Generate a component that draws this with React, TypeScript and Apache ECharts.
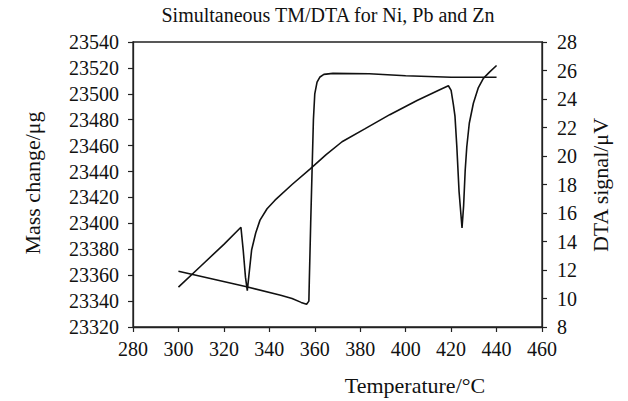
import React, { useEffect, useRef } from "react";
import * as echarts from "echarts";

const xTicks = [280, 300, 320, 340, 360, 380, 400, 420, 440, 460];
const massTemp = [300, 315, 330, 345, 350, 354, 356.4, 357.4, 357.6, 358.2, 358.8, 359.4, 360, 361, 362.3, 364, 368, 384, 400, 420, 440];
const massValue = [23363, 23357, 23351, 23344.5, 23342, 23339, 23337.5, 23340, 23356, 23400, 23440, 23480, 23500, 23509, 23513, 23515, 23515.8, 23515.5, 23514, 23512.8, 23512.8];
const dtaTemp = [300, 310, 320, 327.5, 328.5, 329.5, 330.3, 331, 332.2, 334, 335.9, 339, 342.5, 350, 358, 365, 372, 382, 393, 405, 415, 418.8, 420, 421, 421.7, 422.5, 423.5, 424.8, 425.5, 426.2, 426.9, 428, 429.8, 432, 434.2, 437, 440];
const dtaValue = [10.8, 12.3, 13.8, 15.0, 13.4, 11.5, 10.55, 11.6, 13.4, 14.6, 15.5, 16.3, 16.9, 18.0, 19.1, 20.1, 21.0, 21.9, 22.9, 23.9, 24.65, 24.93, 24.6, 23.6, 22.8, 20.7, 17.5, 14.95, 16.5, 19.0, 20.65, 22.3, 23.7, 24.8, 25.45, 25.9, 26.35];

const FONT = "'Liberation Serif', 'DejaVu Serif', serif";

export default function App() {
  const ref = useRef<HTMLDivElement>(null);
  useEffect(() => {
    const chart = echarts.init(ref.current!, null, { renderer: "svg" });
    const axisCommon = {
      axisLine: { show: true, lineStyle: { color: "#222", width: 1.3 } },
      axisTick: { show: true, inside: false, length: 5, lineStyle: { color: "#222", width: 1.2 } },
      splitLine: { show: false },
      axisLabel: { color: "#111", fontFamily: FONT, fontSize: 20, lineHeight: 16, formatter: (v: number) => String(v) },
    };
    chart.setOption({
      animation: false,
      backgroundColor: "#fff",
      grid: { left: 133, right: 86, top: 42, bottom: 74, show: true, borderColor: "#222", borderWidth: 1.3 },
      xAxis: {
        type: "value", min: xTicks[0], max: xTicks[xTicks.length - 1], interval: 20,
        ...axisCommon,
        axisLabel: { ...axisCommon.axisLabel, margin: 14 },
      },
      yAxis: [
        { type: "value", min: 23320, max: 23540, interval: 20, position: "left", ...axisCommon, axisLabel: { ...axisCommon.axisLabel, margin: 14 } },
        { type: "value", min: 8, max: 28, interval: 2, position: "right", ...axisCommon, axisLabel: { ...axisCommon.axisLabel, margin: 15 } },
      ],
      graphic: [
        { type: "text", x: 328, y: 15, style: { text: "Simultaneous TM/DTA for Ni, Pb and Zn", font: `20px ${FONT}`, fill: "#111", align: "center", verticalAlign: "middle" } },
        { type: "text", x: 415, y: 385, style: { text: "Temperature/°C", font: `22px ${FONT}`, fill: "#111", align: "center", verticalAlign: "middle" } },
        { type: "text", x: 32, y: 183, rotation: Math.PI / 2, style: { text: "Mass change/μg", font: `22px ${FONT}`, fill: "#111", align: "center", verticalAlign: "middle" } },
        { type: "text", x: 600, y: 185, rotation: Math.PI / 2, style: { text: "DTA signal/μV", font: `22px ${FONT}`, fill: "#111", align: "center", verticalAlign: "middle" } },
      ],
      series: [
        {
          name: "Mass change", type: "line", yAxisIndex: 0, showSymbol: false, smooth: false,
          lineStyle: { color: "#111", width: 1.6 },
          data: massTemp.map((t, i) => [t, massValue[i]]),
        },
        {
          name: "DTA signal", type: "line", yAxisIndex: 1, showSymbol: false, smooth: false,
          lineStyle: { color: "#111", width: 1.6 },
          data: dtaTemp.map((t, i) => [t, dtaValue[i]]),
        },
      ],
    });
    return () => chart.dispose();
  }, []);
  return <div ref={ref} style={{ width: 628, height: 401, position: "absolute", left: 0, top: 0 }} />;
}
